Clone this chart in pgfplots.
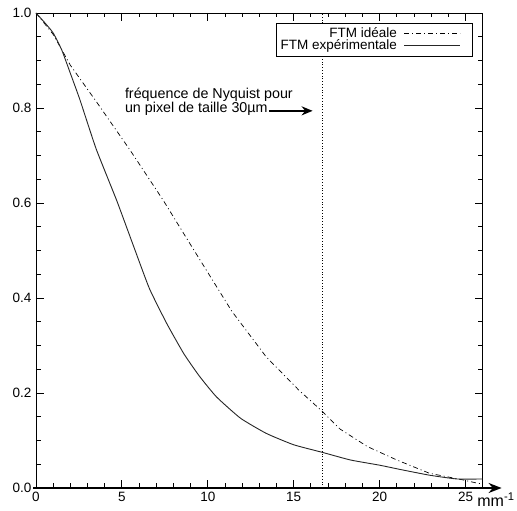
\documentclass[border=0pt]{standalone}
\usepackage{fontspec}
\setmainfont{Liberation Sans}
\usepackage{pgfplots}
\pgfplotsset{compat=1.18}
\usetikzlibrary{arrows.meta}

\pgfplotstableread{
x y
0 1.000
0.5 0.980
1.0 0.958
1.5 0.922
2.0 0.873
2.56 0.817
3.5 0.714
4.7 0.605
5.7 0.507
6.6 0.420
7.6 0.347
8.6 0.283
9.5 0.236
10.5 0.192
11.9 0.147
13.4 0.115
15.0 0.091
16.67 0.075
18.3 0.059
20.0 0.048
21.2 0.039
22.9 0.027
24.5 0.019
26.0 0.019
}\experimental

\pgfplotstableread{
x y
0 1.000
1.0 0.955
2.0 0.890
3.5 0.814
5.5 0.710
7.4 0.606
9.0 0.512
11.4 0.372
13.4 0.276
15.3 0.206
16.67 0.161
17.7 0.124
19.3 0.087
21.0 0.059
22.9 0.031
24.85 0.017
25.7 0.010
26.0 0.009
}\ideal

\begin{document}
\begin{tikzpicture}
\useasboundingbox (-36pt,-23pt) rectangle (481pt,488pt);
\begin{axis}[
  scale only axis,
  width=446.7pt, height=475pt,
  xmin=0, xmax=26, ymin=0, ymax=1,
  xtick={0,5,10,15,20,25},
  minor x tick num=4,
  ytick={0,0.2,0.4,0.6,0.8,1.0},
  minor y tick num=3,
  tick align=inside,
  major tick length=8pt, minor tick length=4.5pt,
  tick style={black, line width=0.9pt},
  axis line style={line width=0.9pt},
  /pgf/number format/assume math mode=true,
  yticklabel style={/pgf/number format/fixed, /pgf/number format/fixed zerofill, /pgf/number format/precision=1, xshift=-1pt},
  xticklabel style={yshift=-1pt},
  ticklabel style={font=\fontsize{13.5}{15}\selectfont},
  clip=false,
  legend style={at={(rel axis cs:0.9776,0.9796)}, anchor=north east,
    draw=black, line width=0.7pt, font=\fontsize{13.5}{14}\selectfont,
    legend cell align=right, row sep=-3pt, inner sep=2.5pt},
  legend plot pos=right,
  legend image code/.code={\path (0pt,0pt) (70pt,0pt); \draw[#1] (5pt,0pt) -- (61pt,0pt);},
]
\addplot[black, line width=0.7pt, dash pattern=on 5pt off 3pt on 1pt off 3pt] table[x=x,y=y] {\ideal};
\addlegendentry{FTM idéale}
\addplot[black!85, line width=0.9pt, smooth, tension=0.3] table[x=x,y=y] {\experimental};
\addlegendentry{FTM expérimentale}
\addplot[black, dotted, line width=0.8pt, forget plot] coordinates {(16.67,0) (16.67,1)};
\draw[line width=1.8pt, -{Stealth[length=13pt,width=10pt]}] (axis cs:-0.15,0) -- (axis cs:27.1,0);
\draw[line width=1.8pt, -{Stealth[length=11pt,width=9pt]}] (axis cs:13.55,0.794) -- (axis cs:16.1,0.794);
\node[anchor=base west, inner sep=0, font=\fontsize{14.3}{16}\selectfont] at (axis cs:5.17,0.821) {fréquence de Nyquist pour};
\node[anchor=base west, inner sep=0, font=\fontsize{14.3}{16}\selectfont] at (axis cs:5.17,0.790) {un pixel de taille 30µm};
\node[anchor=base west, inner sep=0, font=\fontsize{16}{18}\selectfont] at (axis cs:25.68,-0.039) {mm\textsuperscript{-1}};
\end{axis}
\end{tikzpicture}
\end{document}
